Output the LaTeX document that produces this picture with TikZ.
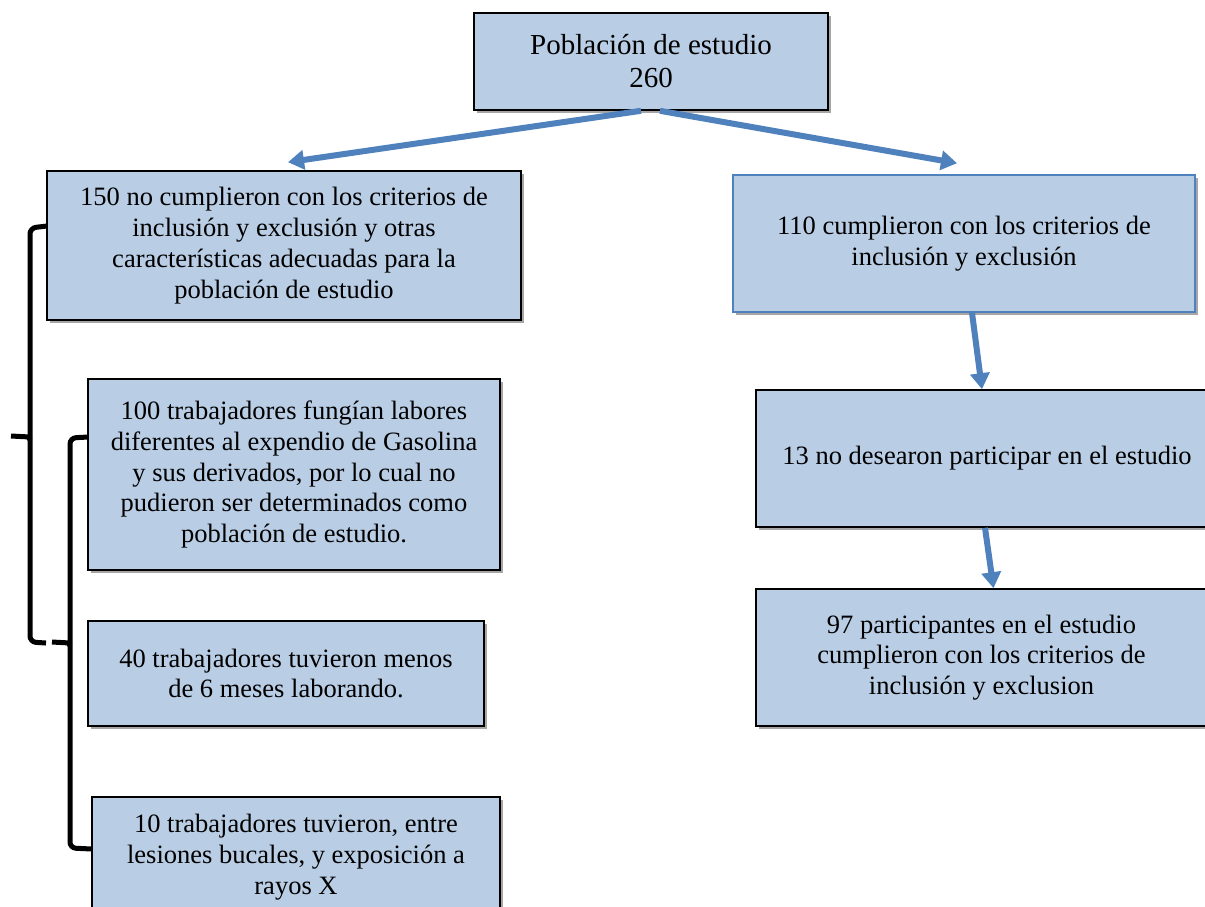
\documentclass[tikz,border=0pt]{standalone}
\usepackage{fontspec}
\setmainfont{Liberation Serif}
\usetikzlibrary{arrows.meta,shadows}
\definecolor{boxfill}{RGB}{185,205,229}
\definecolor{arrblue}{RGB}{79,129,189}
\tikzset{
  box/.style={draw=black, line width=1.6pt, fill=boxfill, inner sep=0pt, align=center,
    font=\fontsize{26.5}{30.8}\selectfont,
    drop shadow={shadow xshift=2.5pt, shadow yshift=-2.5pt, opacity=0.35, fill=black}},
  arr/.style={draw=arrblue, line width=6pt, -{Triangle[length=16pt,width=19pt]}},
  brace/.style={draw=black, line width=5pt, rounded corners=6pt}
}
\begin{document}
\begin{tikzpicture}[x=1pt,y=-1pt]
\path[use as bounding box, clip] (0,0) rectangle (1205,906);
\fill[white] (0,0) rectangle (1205,906);
\node[box, font=\fontsize{29}{33}\selectfont, minimum width=354pt, minimum height=97pt] (top) at (651,61.5) {Población de estudio\\260};
\node[box, minimum width=474pt, minimum height=149pt] (b150) at (284,245.5) {150 no cumplieron con los criterios de\\inclusión y exclusión y otras\\características adecuadas para la\\población de estudio};
\node[box, draw=arrblue, minimum width=462pt, minimum height=137pt] (b110) at (964,243.5) {110 cumplieron con los criterios de\\inclusión y exclusión};
\node[box, minimum width=412pt, minimum height=191pt] (b100) at (294,474.5) {100 trabajadores fungían labores\\diferentes al expendio de Gasolina\\y sus derivados, por lo cual no\\pudieron ser determinados como\\población de estudio.};
\node[box, minimum width=462pt, minimum height=137pt] (b13) at (987,458.5) {13 no desearon participar en el estudio};
\node[box, minimum width=396pt, minimum height=105pt] (b40) at (286,673.5) {40 trabajadores tuvieron menos\\de 6 meses laborando.};
\node[box, minimum width=451pt, minimum height=137pt] (b97) at (981.5,657.5) {97 participantes en el estudio\\cumplieron con los criterios de\\inclusión y exclusion};
\node[box, minimum width=408pt, minimum height=120pt] (b10) at (296,857) {10 trabajadores tuvieron, entre\\lesiones bucales, y exposición a\\rayos X};
% arrows
\draw[arr] ([xshift=-10pt]top.south) -- ([xshift=4pt,yshift=8pt]b150.north);
\draw[arr] ([xshift=9pt]top.south) -- ([xshift=-7pt,yshift=11pt]b110.north);
\draw[arr] ([xshift=8pt]b110.south) -- ([xshift=-5pt]b13.north);
\draw[arr] ([xshift=-2pt]b13.south) -- ([xshift=12pt]b97.north);
% braces
\draw[brace] (47,226) -- (30,228) -- (30,642) -- (46,643);
\draw[brace, rounded corners=3pt] (11,436) -- (30,437) -- (30,440);
\draw[brace] (88,437) -- (70,438) -- (70,848) -- (92,849);
\draw[brace, rounded corners=3pt] (52,642) -- (70,643) -- (70,646);
\end{tikzpicture}
\end{document}
